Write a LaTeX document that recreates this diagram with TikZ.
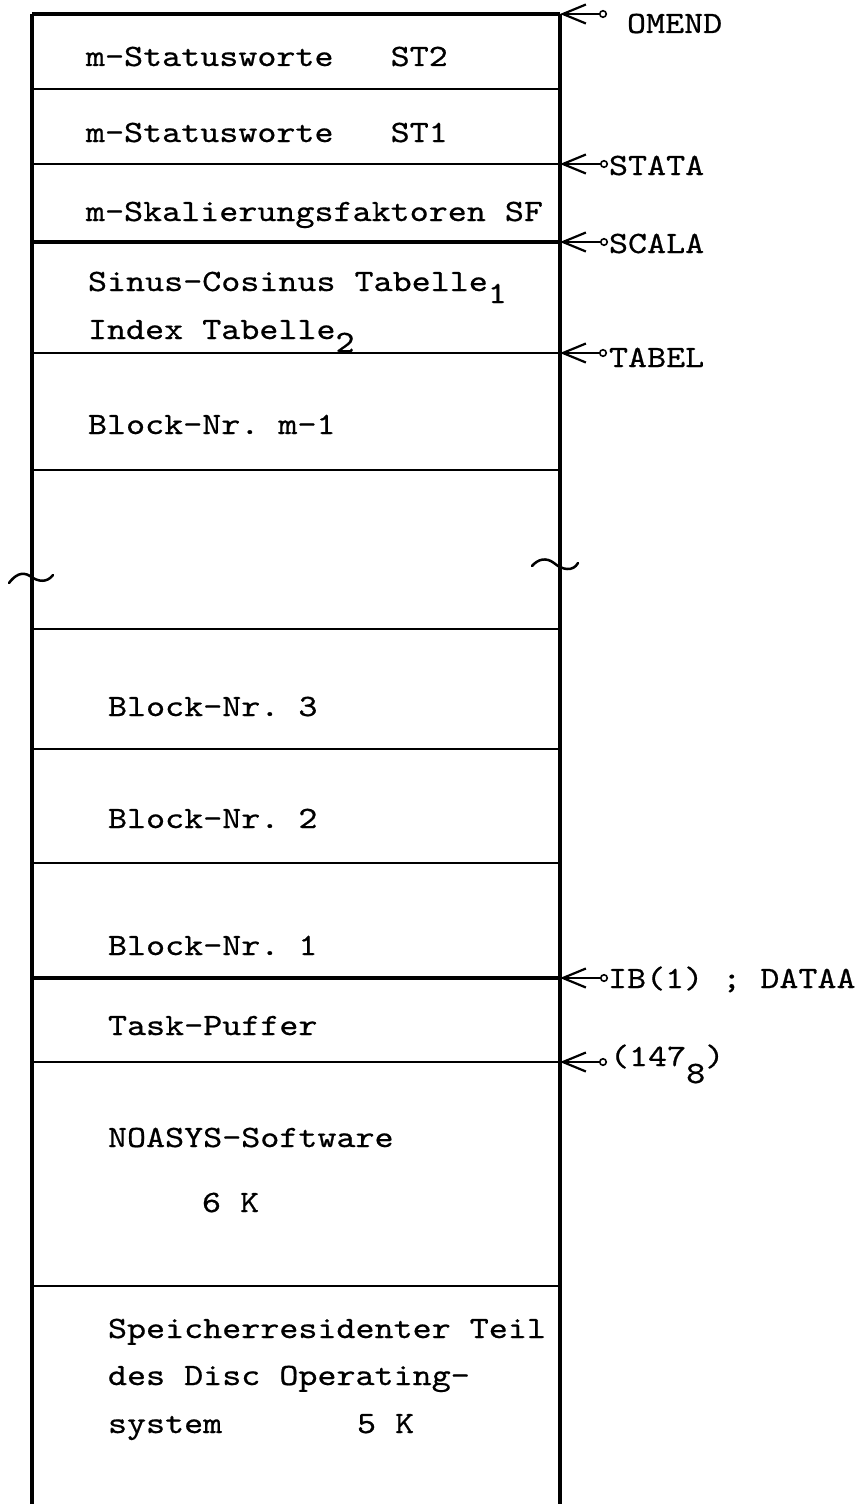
\documentclass[tikz,border=0pt]{standalone}
\usepackage{fontspec}
% typewriter face, widened slightly to the pitch of the typed labels
\setmonofont[FakeStretch=1.17,FakeBold=0.6]{lmmono10-regular.otf}
\usetikzlibrary{arrows.meta}
\begin{document}
\begin{tikzpicture}[x=1pt,y=-1pt,
  every node/.style={inner sep=0pt, outer sep=0pt,
    font=\ttfamily\fontsize{31}{38}\selectfont},
  cell/.style={anchor=base west},
  lbl/.style={anchor=base west},
  border/.style={line width=3.5pt},
  rule/.style={line width=2.5pt},
  heavyrule/.style={line width=4pt},
  ptr/.style={line width=2.2pt,
    -{Straight Barb[length=23pt,width=19pt,line width=2.2pt]}},
  pin/.style={circle, draw, line width=1.6pt, minimum size=6.5pt, inner sep=0pt},
  wave/.style={line width=2.5pt, line cap=round}
]
\useasboundingbox (0,0) rectangle (863,1504);

% left and right edges of the memory column
\coordinate (L) at (32,14);
\coordinate (R) at (560,14);
\coordinate (Lb) at (32,1504);
\coordinate (Rb) at (560,1504);
\draw[border] (L) -- (Lb);
\draw[border] (R) -- (Rb);

% boundaries between the memory areas
\foreach \n/\y/\st in {0/14/heavyrule, 1/89/rule, 2/164/rule, 3/242/heavyrule,
                      4/353/rule, 5/470/rule, 6/629/rule, 7/749/rule,
                      8/863/rule, 9/978/heavyrule, 10/1062/rule, 11/1286/rule}{
  \coordinate (l\n) at (32,\y);
  \coordinate (r\n) at (560,\y);
  \draw[\st] (l\n) -- (r\n);
}

% break marks on both edges
\draw[wave] (9,583) .. controls (15,575) and (22,571) .. (30,576)
            .. controls (38,582) and (47,583) .. (53,575);
\draw[wave] (532,566) .. controls (538,559) and (546,557) .. (554,563)
            .. controls (562,570) and (573,572) .. (578,563);

% contents of the areas
\node[cell] (st2) at (86,66) {m-Statusworte\ \ \ ST2};
\node[cell] (st1) at (86,142) {m-Statusworte\ \ \ ST1};
\node[cell] (sf) at (86,221) {m-Skalierungsfaktoren SF};
\node[cell] (sin) at (88,291) {Sinus-Cosinus Tabelle\raisebox{-12pt}{1}};
\node[cell] (idx) at (88,339) {Index Tabelle\raisebox{-13pt}{2}};
\node[cell] (bm) at (88,434) {Block-Nr. m-1};
\node[cell] (b3) at (108,716) {Block-Nr. 3};
\node[cell] (b2) at (108,828) {Block-Nr. 2};
\node[cell] (b1) at (108,955) {Block-Nr. 1};
\node[cell] (task) at (108,1035) {Task-Puffer};
\node[cell] (noa) at (108,1147) {NOASYS-Software};
\node[cell] (noak) at (202,1212) {6 K};
\node[cell] (dos1) at (108,1338) {Speicherresidenter Teil};
\node[cell] (dos2) at (108,1385) {des Disc Operating-};
\node[cell] (dos3) at (108,1433) {system};
\node[cell] (dosk) at (357,1433) {5 K};

% address pointers
\node[pin] (pOMEND) at (603,14) {};
\node[lbl] (tOMEND) at (627,33) {OMEND};
\draw[ptr] (pOMEND) -- (r0);

\node[pin] (pSTATA) at (604,164) {};
\node[lbl] (tSTATA) at (609,175) {STATA};
\draw[ptr] (pSTATA) -- (r2);

\node[pin] (pSCALA) at (604,242) {};
\node[lbl] (tSCALA) at (609,253) {SCALA};
\draw[ptr] (pSCALA) -- (r3);

\node[pin] (pTABEL) at (603,353) {};
\node[lbl] (tTABEL) at (609,367) {TABEL};
\draw[ptr] (pTABEL) -- (r4);

\node[pin] (pDATAA) at (604,978) {};
\node[lbl] (tDATAA) at (608,988) {IB(1) ; DATAA};
\draw[ptr] (pDATAA) -- (r9);

\node[pin] (pBASE) at (603,1062) {};
\node[lbl] (tBASE) at (610,1066) {(147\raisebox{-17pt}{8})};
\draw[ptr] (pBASE) -- (r10);
\end{tikzpicture}
\end{document}
